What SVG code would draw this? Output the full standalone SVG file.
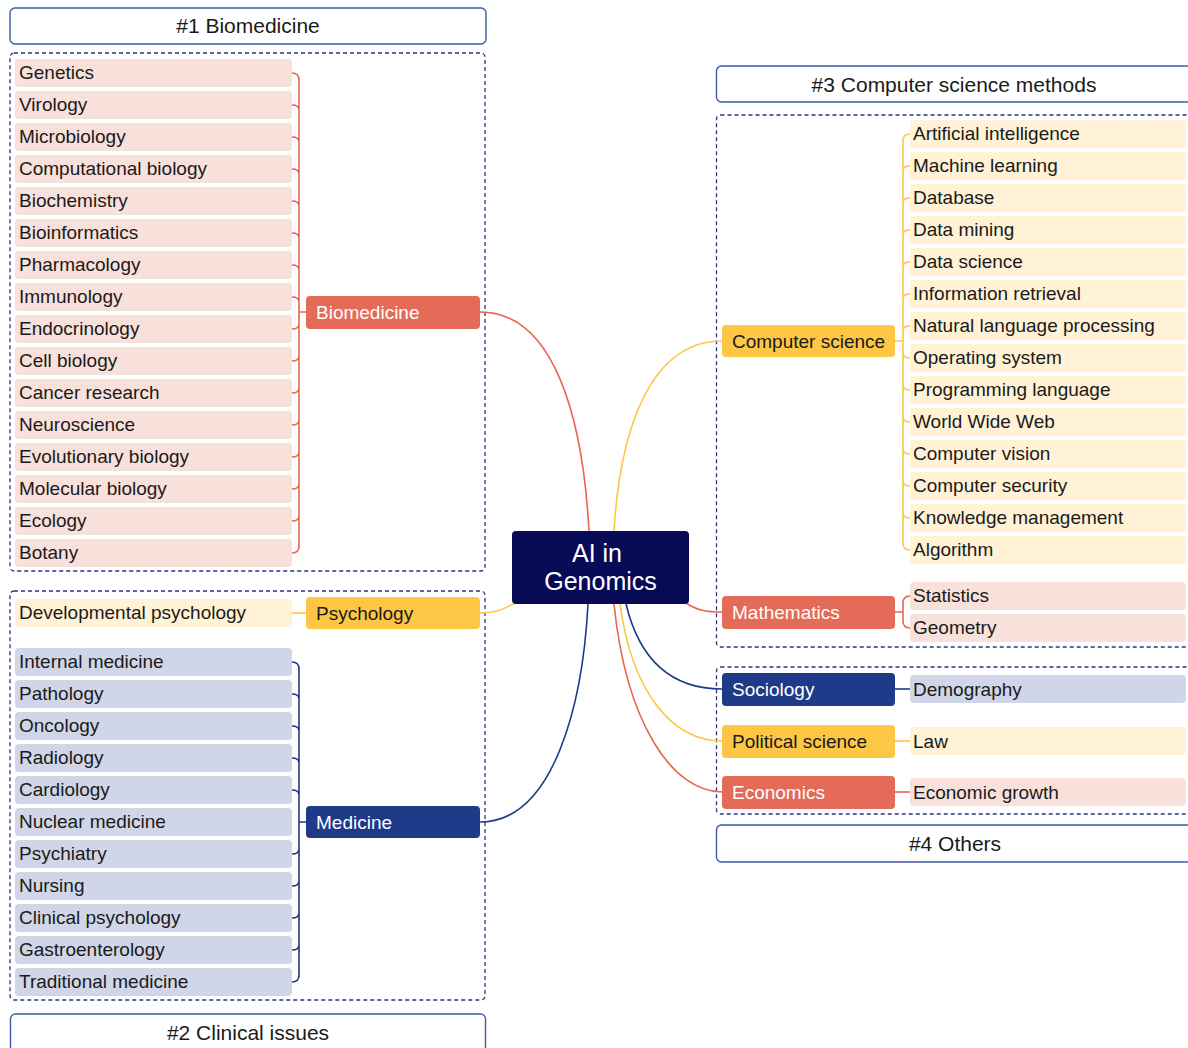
<svg xmlns="http://www.w3.org/2000/svg" width="1188" height="1048" viewBox="0 0 1188 1048">
<style>
text{font-family:"Liberation Sans",Arial,sans-serif;fill:#1a1a1a}
.hdr{fill:#fff;stroke:#3d5aa8;stroke-width:1.4}
.ht{font-size:21px;text-anchor:middle}
.box{fill:none;stroke:#2b3580;stroke-width:1.3;stroke-dasharray:4 3}
.it{font-size:19px}
.nt{font-size:19px}
.w{fill:#fff}
.pk{fill:#f8e0db}
.yl{fill:#fff2d6}
.bl{fill:#d0d6e7}
.rn{fill:#e46b57}
.yn{fill:#fdc745}
.bn{fill:#1f3a88}
.cr{fill:none;stroke:#e8664f;stroke-width:1.6}
.cy{fill:none;stroke:#fdc745;stroke-width:1.6}
.cb{fill:none;stroke:#1f3a88;stroke-width:1.6}
</style>

<g id="frames">
<rect class="hdr" x="10" y="8" width="476" height="36" rx="5"/>
<text class="ht" x="248" y="33">#1 Biomedicine</text>
<rect class="box" x="10" y="53" width="475" height="518" rx="4"/>
<rect class="box" x="10" y="591" width="475" height="409" rx="4"/>
<rect class="hdr" x="10.5" y="1014" width="475" height="40" rx="5"/>
<text class="ht" x="248" y="1040">#2 Clinical issues</text>
<rect class="hdr" x="716.5" y="66" width="480" height="36" rx="5"/>
<text class="ht" x="954" y="92">#3 Computer science methods</text>
<rect class="box" x="716.5" y="115" width="480" height="532" rx="4"/>
<rect class="box" x="716.5" y="667" width="480" height="147" rx="4"/>
<rect class="hdr" x="716.5" y="825" width="480" height="37" rx="5"/>
<text class="ht" x="955" y="851">#4 Others</text>
</g>

<g id="connectors">
<path class="cr" d="M480,312 C555,312 583,420 589,531"/>
<path class="cy" d="M722,341 C650,341 620,430 614,531"/>
<path class="cy" d="M480,613 C498,613 505,608 515,603"/>
<path class="cr" d="M686,603 C698,611 708,612 722,612"/>
<path class="cb" d="M480,822 C555,822 583,700 588,604"/>
<path class="cb" d="M626,604 C640,662 672,689 722,689"/>
<path class="cy" d="M620,604 C632,692 672,741 722,741"/>
<path class="cr" d="M614,604 C626,722 672,792 722,792"/>
<!-- biomedicine bracket -->
<path class="cr" d="M299,78 V548 M292,73 Q299,73 299,80 M292,553 Q299,553 299,546 M299,312 H306
M292,105 Q299,105 299,110 M292,137 Q299,137 299,142 M292,169 Q299,169 299,174 M292,201 Q299,201 299,206 M292,233 Q299,233 299,238 M292,265 Q299,265 299,270 M292,297 Q299,297 299,302
M292,329 Q299,329 299,324 M292,361 Q299,361 299,356 M292,393 Q299,393 299,388 M292,425 Q299,425 299,420 M292,457 Q299,457 299,452 M292,489 Q299,489 299,484 M292,521 Q299,521 299,516"/>
<!-- psychology -->
<path class="cy" d="M292,613 H306"/>
<!-- medicine bracket -->
<path class="cb" d="M299,667 V977 M292,662 Q299,662 299,669 M292,982 Q299,982 299,975 M299,822 H306
M292,694 Q299,694 299,699 M292,726 Q299,726 299,731 M292,758 Q299,758 299,763 M292,790 Q299,790 299,795
M292,854 Q299,854 299,849 M292,886 Q299,886 299,881 M292,918 Q299,918 299,913 M292,950 Q299,950 299,945"/>
<!-- computer science bracket -->
<path class="cy" d="M903,139 V545 M910,134 Q903,134 903,141 M910,550 Q903,550 903,543 M895,341 H903
M910,166 Q903,166 903,171 M910,198 Q903,198 903,203 M910,230 Q903,230 903,235 M910,262 Q903,262 903,267 M910,294 Q903,294 903,299 M910,326 Q903,326 903,331
M910,358 Q903,358 903,353 M910,390 Q903,390 903,385 M910,422 Q903,422 903,417 M910,454 Q903,454 903,449 M910,486 Q903,486 903,481 M910,518 Q903,518 903,513"/>
<!-- mathematics bracket -->
<path class="cr" d="M910,596 Q903,596 903,603 V621 Q903,628 910,628 M895,612 H903"/>
<path class="cb" d="M895,689 H910"/>
<path class="cy" d="M895,741 H910"/>
<path class="cr" d="M895,792 H910"/>
</g>

<g id="center">
<rect x="512" y="531" width="177" height="73" rx="4" fill="#070b56"/>
<text class="w" x="597" y="562" font-size="25" text-anchor="middle">AI in</text>
<text class="w" x="600.5" y="590" font-size="25" text-anchor="middle">Genomics</text>
</g>

<g id="biomedicine">
<rect class="rn" x="306" y="296" width="174" height="33" rx="4"/>
<text class="nt w" x="316" y="319">Biomedicine</text>
</g>
<g id="biomedicine-items">
<rect class="pk" x="15" y="59" width="277" height="28" rx="4"/><text class="it" x="19" y="79">Genetics</text>
<rect class="pk" x="15" y="91" width="277" height="28" rx="4"/><text class="it" x="19" y="111">Virology</text>
<rect class="pk" x="15" y="123" width="277" height="28" rx="4"/><text class="it" x="19" y="143">Microbiology</text>
<rect class="pk" x="15" y="155" width="277" height="28" rx="4"/><text class="it" x="19" y="175">Computational biology</text>
<rect class="pk" x="15" y="187" width="277" height="28" rx="4"/><text class="it" x="19" y="207">Biochemistry</text>
<rect class="pk" x="15" y="219" width="277" height="28" rx="4"/><text class="it" x="19" y="239">Bioinformatics</text>
<rect class="pk" x="15" y="251" width="277" height="28" rx="4"/><text class="it" x="19" y="271">Pharmacology</text>
<rect class="pk" x="15" y="283" width="277" height="28" rx="4"/><text class="it" x="19" y="303">Immunology</text>
<rect class="pk" x="15" y="315" width="277" height="28" rx="4"/><text class="it" x="19" y="335">Endocrinology</text>
<rect class="pk" x="15" y="347" width="277" height="28" rx="4"/><text class="it" x="19" y="367">Cell biology</text>
<rect class="pk" x="15" y="379" width="277" height="28" rx="4"/><text class="it" x="19" y="399">Cancer research</text>
<rect class="pk" x="15" y="411" width="277" height="28" rx="4"/><text class="it" x="19" y="431">Neuroscience</text>
<rect class="pk" x="15" y="443" width="277" height="28" rx="4"/><text class="it" x="19" y="463">Evolutionary biology</text>
<rect class="pk" x="15" y="475" width="277" height="28" rx="4"/><text class="it" x="19" y="495">Molecular biology</text>
<rect class="pk" x="15" y="507" width="277" height="28" rx="4"/><text class="it" x="19" y="527">Ecology</text>
<rect class="pk" x="15" y="539" width="277" height="28" rx="4"/><text class="it" x="19" y="559">Botany</text>
</g>

<g id="psychology">
<rect class="yn" x="306" y="597" width="174" height="32" rx="4"/>
<text class="nt" x="316" y="620">Psychology</text>
</g>
<g id="psychology-items">
<rect class="yl" x="15" y="599" width="277" height="28" rx="4"/><text class="it" x="19" y="619">Developmental psychology</text>
</g>

<g id="medicine">
<rect class="bn" x="306" y="806" width="174" height="32" rx="4"/>
<text class="nt w" x="316" y="829">Medicine</text>
</g>
<g id="medicine-items">
<rect class="bl" x="15" y="648" width="277" height="28" rx="4"/><text class="it" x="19" y="668">Internal medicine</text>
<rect class="bl" x="15" y="680" width="277" height="28" rx="4"/><text class="it" x="19" y="700">Pathology</text>
<rect class="bl" x="15" y="712" width="277" height="28" rx="4"/><text class="it" x="19" y="732">Oncology</text>
<rect class="bl" x="15" y="744" width="277" height="28" rx="4"/><text class="it" x="19" y="764">Radiology</text>
<rect class="bl" x="15" y="776" width="277" height="28" rx="4"/><text class="it" x="19" y="796">Cardiology</text>
<rect class="bl" x="15" y="808" width="277" height="28" rx="4"/><text class="it" x="19" y="828">Nuclear medicine</text>
<rect class="bl" x="15" y="840" width="277" height="28" rx="4"/><text class="it" x="19" y="860">Psychiatry</text>
<rect class="bl" x="15" y="872" width="277" height="28" rx="4"/><text class="it" x="19" y="892">Nursing</text>
<rect class="bl" x="15" y="904" width="277" height="28" rx="4"/><text class="it" x="19" y="924">Clinical psychology</text>
<rect class="bl" x="15" y="936" width="277" height="28" rx="4"/><text class="it" x="19" y="956">Gastroenterology</text>
<rect class="bl" x="15" y="968" width="277" height="28" rx="4"/><text class="it" x="19" y="988">Traditional medicine</text>
</g>

<g id="computer-science">
<rect class="yn" x="722" y="325" width="173" height="32" rx="4"/>
<text class="nt" x="732" y="348">Computer science</text>
</g>
<g id="computer-science-items">
<rect class="yl" x="910" y="120" width="276" height="28" rx="4"/><text class="it" x="913" y="140">Artificial intelligence</text>
<rect class="yl" x="910" y="152" width="276" height="28" rx="4"/><text class="it" x="913" y="172">Machine learning</text>
<rect class="yl" x="910" y="184" width="276" height="28" rx="4"/><text class="it" x="913" y="204">Database</text>
<rect class="yl" x="910" y="216" width="276" height="28" rx="4"/><text class="it" x="913" y="236">Data mining</text>
<rect class="yl" x="910" y="248" width="276" height="28" rx="4"/><text class="it" x="913" y="268">Data science</text>
<rect class="yl" x="910" y="280" width="276" height="28" rx="4"/><text class="it" x="913" y="300">Information retrieval</text>
<rect class="yl" x="910" y="312" width="276" height="28" rx="4"/><text class="it" x="913" y="332">Natural language processing</text>
<rect class="yl" x="910" y="344" width="276" height="28" rx="4"/><text class="it" x="913" y="364">Operating system</text>
<rect class="yl" x="910" y="376" width="276" height="28" rx="4"/><text class="it" x="913" y="396">Programming language</text>
<rect class="yl" x="910" y="408" width="276" height="28" rx="4"/><text class="it" x="913" y="428">World Wide Web</text>
<rect class="yl" x="910" y="440" width="276" height="28" rx="4"/><text class="it" x="913" y="460">Computer vision</text>
<rect class="yl" x="910" y="472" width="276" height="28" rx="4"/><text class="it" x="913" y="492">Computer security</text>
<rect class="yl" x="910" y="504" width="276" height="28" rx="4"/><text class="it" x="913" y="524">Knowledge management</text>
<rect class="yl" x="910" y="536" width="276" height="28" rx="4"/><text class="it" x="913" y="556">Algorithm</text>
</g>

<g id="mathematics">
<rect class="rn" x="722" y="596" width="173" height="33" rx="4"/>
<text class="nt w" x="732" y="619">Mathematics</text>
</g>
<g id="mathematics-items">
<rect class="pk" x="910" y="582" width="276" height="28" rx="4"/><text class="it" x="913" y="602">Statistics</text>
<rect class="pk" x="910" y="614" width="276" height="28" rx="4"/><text class="it" x="913" y="634">Geometry</text>
</g>

<g id="sociology">
<rect class="bn" x="722" y="673" width="173" height="33" rx="4"/>
<text class="nt w" x="732" y="696">Sociology</text>
<rect class="bl" x="910" y="675" width="276" height="28" rx="4"/><text class="it" x="913" y="696">Demography</text>
</g>

<g id="political-science">
<rect class="yn" x="722" y="725" width="173" height="33" rx="4"/>
<text class="nt" x="732" y="748">Political science</text>
<rect class="yl" x="910" y="727" width="276" height="28" rx="4"/><text class="it" x="913" y="748">Law</text>
</g>

<g id="economics">
<rect class="rn" x="722" y="776" width="173" height="33" rx="4"/>
<text class="nt w" x="732" y="799">Economics</text>
<rect class="pk" x="910" y="778" width="276" height="28" rx="4"/><text class="it" x="913" y="799">Economic growth</text>
</g>
</svg>
